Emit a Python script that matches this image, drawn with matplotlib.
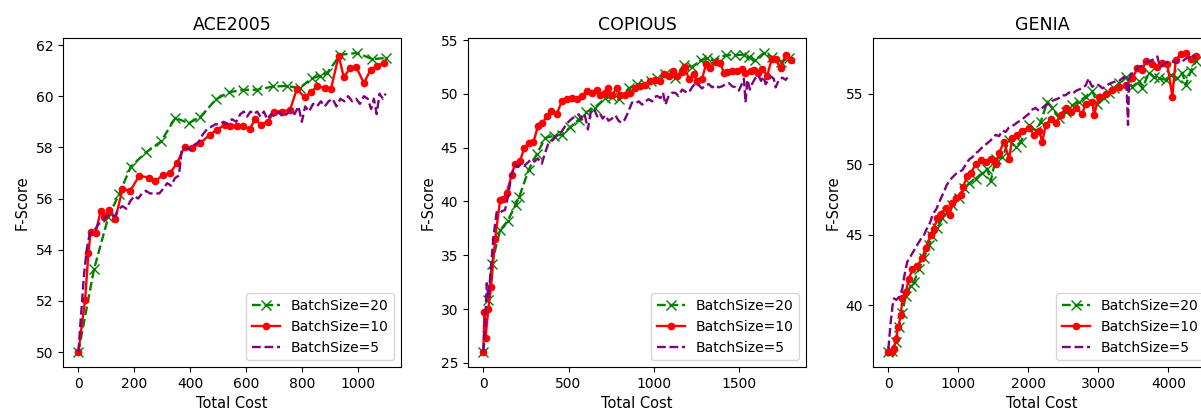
import matplotlib.pyplot as plt

# ACE2005
ace_x20 = [0, 56, 107, 146, 188, 242, 296, 347, 395, 436, 493, 538, 590, 638, 698, 746,
           792, 836, 866, 890, 938, 998, 1052, 1100]
ace_y20 = [50.0, 53.24, 55.27, 56.18, 57.25, 57.8, 58.23, 59.15, 58.95, 59.18, 59.88, 60.15,
           60.25, 60.25, 60.38, 60.4, 60.32, 60.7, 60.8, 60.9, 61.62, 61.69, 61.45, 61.49]
ace_x10 = [0, 24, 36, 44, 62, 80, 92, 110, 132, 158, 186, 218, 252, 275, 302, 328, 353, 380,
           407, 436, 470, 496, 525, 542, 567, 590, 614, 632, 654, 678, 702, 728, 758, 782,
           810, 833, 856, 884, 904, 932, 950, 974, 995, 1022, 1046, 1070, 1094]
ace_y10 = [50.0, 52.03, 53.86, 54.7, 54.67, 55.53, 55.29, 55.55, 55.19, 56.37, 56.31, 56.89,
           56.82, 56.67, 56.92, 56.99, 57.38, 58.03, 57.96, 58.16, 58.49, 58.69, 58.88, 58.84,
           58.84, 58.84, 58.71, 59.1, 58.88, 59.01, 59.4, 59.4, 59.47, 60.28, 59.96, 60.18,
           60.38, 60.32, 60.28, 61.58, 60.75, 61.1, 61.14, 60.51, 61.03, 61.19, 61.3]
ace_x5 = [0, 10, 20, 30, 40, 50, 60, 72, 86, 100, 116, 130, 145, 158, 172, 186, 200, 214,
          228, 242, 256, 270, 290, 305, 318, 332, 346, 360, 370, 385, 400, 415, 430, 445,
          460, 475, 490, 505, 520, 535, 550, 565, 580, 592, 604, 616, 628, 640, 652, 664,
          676, 690, 704, 718, 732, 746, 760, 774, 788, 800, 812, 826, 840, 854, 868, 882,
          896, 910, 924, 938, 952, 966, 980, 994, 1008, 1022, 1036, 1048, 1058, 1068, 1078,
          1090, 1100]
ace_y5 = [50.0, 51.5, 53.0, 54.0, 54.6, 54.7, 54.8, 55.0, 55.1, 55.3, 55.4, 55.3, 55.6, 55.7,
          55.6, 55.9, 56.1, 56.0, 56.2, 56.3, 56.2, 56.2, 56.2, 56.4, 56.6, 56.5, 56.8, 56.9,
          57.9, 58.0, 57.9, 58.1, 58.2, 58.5, 58.7, 58.8, 58.9, 58.9, 59.0, 58.9, 59.1, 59.0,
          59.3, 59.4, 59.2, 59.4, 59.3, 59.4, 59.2, 59.4, 59.1, 59.3, 59.2, 59.4, 59.2, 59.3,
          59.5, 59.3, 59.6, 59.0, 59.6, 59.4, 59.7, 59.6, 59.8, 59.6, 59.8, 59.9, 59.6, 59.9,
          59.8, 60.0, 59.8, 59.9, 59.7, 60.0, 59.9, 59.5, 59.9, 59.3, 60.1, 59.9, 60.1]

# COPIOUS
cop_x20 = [0, 29, 49, 98, 143, 190, 210, 265, 314, 363, 412, 461, 510, 559, 604, 653, 716,
           755, 794, 853, 902, 951, 985, 1020, 1069, 1127, 1176, 1225, 1275, 1314, 1353,
           1422, 1480, 1529, 1559, 1594, 1647, 1696, 1745, 1794]
cop_y20 = [26.0, 30.8, 34.2, 37.3, 38.2, 39.7, 40.4, 42.9, 44.4, 45.9, 46.1, 46.2, 46.9,
           47.6, 48.3, 48.7, 49.6, 49.7, 49.5, 50.5, 50.9, 50.9, 51.2, 51.5, 51.85, 51.5,
           52.7, 52.5, 53.1, 53.3, 53.1, 53.6, 53.6, 53.65, 53.4, 53.1, 53.8, 53.4, 53.0, 53.3]
cop_x10 = [0, 6, 13, 29, 45, 69, 98, 118, 137, 167, 186, 216, 241, 265, 294, 320, 347, 373,
           398, 431, 461, 490, 519, 549, 578, 608, 637, 667, 686, 716, 731, 755, 784, 804,
           833, 863, 892, 921, 951, 980, 1010, 1039, 1059, 1088, 1112, 1137, 1166, 1182,
           1206, 1235, 1255, 1284, 1308, 1333, 1363, 1392, 1412, 1431, 1461, 1490, 1520,
           1539, 1569, 1588, 1613, 1637, 1667, 1692, 1716, 1745, 1775, 1804]
cop_y10 = [26.0, 29.7, 27.3, 30.0, 32.0, 36.5, 40.1, 40.2, 40.8, 42.5, 43.5, 43.8, 45.0,
           45.4, 45.5, 47.0, 47.3, 47.9, 48.4, 48.15, 49.3, 49.5, 49.6, 49.5, 49.8, 50.25,
           50.1, 50.4, 49.9, 50.1, 50.5, 49.9, 50.55, 49.9, 49.9, 50.1, 50.55, 50.7, 50.85,
           51.2, 51.3, 51.2, 51.8, 51.7, 52.1, 51.7, 52.0, 52.5, 51.4, 51.8, 51.2, 51.4, 52.8,
           52.4, 53.0, 52.9, 51.9, 52.0, 52.1, 52.1, 52.3, 51.9, 52.1, 52.2, 51.9, 52.3, 51.7,
           53.2, 53.2, 52.4, 53.6, 53.1]
cop_x5 = [0, 10, 20, 30, 45, 60, 78, 95, 110, 127, 145, 160, 175, 190, 205, 220, 240, 260,
          280, 300, 320, 343, 360, 380, 400, 420, 440, 460, 480, 500, 520, 540, 560, 578,
          596, 614, 630, 650, 668, 684, 700, 716, 735, 755, 775, 794, 810, 830, 850, 873,
          892, 912, 932, 951, 970, 990, 1005, 1020, 1040, 1055, 1069, 1085, 1108, 1127,
          1145, 1167, 1186, 1206, 1225, 1245, 1265, 1284, 1304, 1324, 1343, 1363, 1382,
          1402, 1422, 1441, 1461, 1480, 1500, 1520, 1530, 1539, 1550, 1565, 1580, 1598,
          1615, 1630, 1645, 1657, 1675, 1690, 1705, 1716, 1735, 1755, 1775, 1794]
cop_y5 = [26.0, 28.5, 32.4, 31.0, 34.0, 36.8, 39.0, 38.9, 39.1, 39.2, 40.5, 42.0, 43.0, 43.4,
          43.2, 43.5, 43.3, 43.6, 43.9, 43.7, 44.0, 43.5, 44.4, 45.3, 45.6, 45.9, 46.3, 46.5,
          47.0, 47.4, 47.7, 47.9, 48.1, 47.6, 48.0, 46.7, 48.3, 48.6, 47.9, 48.2, 47.7, 48.0,
          47.5, 47.7, 48.0, 47.5, 47.3, 47.6, 48.3, 49.2, 49.1, 49.3, 49.0, 49.3, 49.5, 49.3,
          49.7, 49.8, 49.6, 50.1, 49.0, 49.7, 50.1, 50.1, 49.8, 50.4, 50.2, 50.1, 50.6, 51.0,
          50.8, 50.5, 50.8, 50.9, 50.6, 50.8, 50.6, 50.7, 50.9, 51.0, 50.7, 50.6, 50.3, 51.0,
          51.4, 49.2, 51.3, 50.4, 51.0, 51.5, 51.7, 51.2, 51.6, 50.9, 51.3, 51.6, 51.4, 50.6,
          51.3, 51.5, 51.3, 51.7]

# GENIA
gen_x20 = [0, 57, 105, 152, 200, 248, 319, 367, 438, 510, 581, 629, 700, 771, 843, 914,
           1010, 1081, 1152, 1248, 1343, 1414, 1462, 1533, 1629, 1724, 1819, 1890, 2010,
           2105, 2176, 2271, 2343, 2438, 2533, 2629, 2724, 2819, 2914, 2986, 3081, 3152,
           3224, 3295, 3390, 3486, 3581, 3629, 3724, 3795, 3867, 3962, 4033, 4129, 4200,
           4248, 4319, 4390]
gen_y20 = [36.7, 36.8, 37.4, 38.5, 39.5, 40.7, 41.4, 41.7, 42.6, 43.4, 44.3, 44.9, 45.5,
           46.2, 46.6, 47.1, 47.6, 48.3, 48.65, 49.0, 49.4, 49.7, 48.8, 50.4, 50.5, 51.7,
           51.25, 51.6, 52.8, 52.4, 53.0, 54.45, 54.0, 53.3, 53.7, 54.2, 54.45, 54.8, 55.2,
           54.3, 54.7, 55.05, 55.4, 55.75, 56.2, 55.5, 55.9, 55.4, 56.5, 56.2, 56.1, 56.0,
           56.35, 56.1, 56.5, 55.6, 56.6, 57.3]
gen_x10 = [0, 57, 81, 105, 143, 176, 200, 248, 295, 343, 414, 486, 533, 605, 652, 700, 748,
           819, 876, 914, 971, 1033, 1067, 1129, 1176, 1248, 1319, 1390, 1462, 1533, 1581,
           1652, 1724, 1771, 1843, 1914, 2010, 2081, 2152, 2200, 2248, 2319, 2390, 2462,
           2533, 2605, 2676, 2771, 2819, 2914, 2938, 3010, 3105, 3200, 3295, 3390, 3486,
           3557, 3629, 3676, 3771, 3843, 3914, 3986, 4057, 4105, 4176, 4248, 4319, 4390]
gen_y10 = [36.7, 36.7, 36.9, 37.6, 38.5, 39.3, 40.5, 40.95, 41.9, 42.6, 42.8, 43.4, 44.1,
           44.98, 45.45, 46.2, 46.5, 46.9, 46.4, 47.3, 47.6, 47.8, 48.4, 49.2, 49.4, 50.0,
           50.3, 50.2, 50.4, 50.0, 50.8, 51.6, 50.4, 51.85, 52.1, 52.4, 52.6, 52.1, 52.4,
           51.6, 52.8, 53.2, 52.9, 53.5, 54.0, 53.7, 54.0, 53.6, 54.3, 54.45, 53.5, 54.8,
           55.0, 55.3, 55.5, 55.6, 56.1, 56.8, 56.7, 57.3, 57.1, 56.9, 57.2, 57.1, 54.8,
           57.4, 57.8, 57.9, 57.5, 57.65]
gen_x5 = [0, 33, 60, 81, 115, 152, 180, 200, 225, 248, 270, 295, 330, 367, 400, 438, 475,
          510, 545, 581, 605, 629, 652, 676, 700, 724, 760, 795, 830, 867, 900, 938, 980,
          1020, 1057, 1095, 1129, 1165, 1200, 1240, 1280, 1319, 1360, 1414, 1460, 1500,
          1533, 1580, 1630, 1676, 1720, 1760, 1795, 1850, 1914, 1960, 2010, 2060, 2105,
          2150, 2200, 2250, 2295, 2340, 2390, 2438, 2480, 2533, 2580, 2630, 2676, 2720,
          2770, 2819, 2845, 2867, 2890, 2914, 2960, 3010, 3060, 3105, 3150, 3200, 3250,
          3295, 3340, 3367, 3400, 3424, 3440, 3462, 3500, 3533, 3580, 3630, 3676, 3720,
          3771, 3810, 3843, 3870, 3890, 3930, 3962, 4010, 4057, 4100, 4152, 4200, 4248,
          4300, 4343, 4390]
gen_y5 = [36.9, 38.8, 40.0, 40.5, 40.4, 40.6, 40.9, 41.2, 42.0, 42.6, 43.1, 43.3, 43.6,
          43.9, 44.2, 44.5, 44.8, 45.0, 45.4, 45.7, 46.0, 46.4, 46.6, 46.75, 47.0, 47.3,
          47.7, 48.05, 48.5, 48.8, 49.0, 49.2, 49.4, 49.5, 49.6, 49.9, 50.2, 50.4, 50.5,
          50.8, 50.9, 51.1, 51.3, 51.5, 51.7, 51.9, 52.1, 52.0, 52.4, 52.3, 52.6, 52.7,
          52.8, 53.0, 53.2, 53.4, 53.6, 53.9, 54.0, 53.8, 54.0, 54.2, 54.3, 54.5, 54.6,
          54.7, 54.9, 54.9, 55.1, 55.0, 55.2, 55.3, 55.4, 55.6, 55.9, 56.1, 55.7, 55.5,
          55.7, 55.6, 55.4, 55.5, 55.7, 55.8, 55.9, 55.9, 56.1, 56.2, 56.0, 52.8, 56.1,
          56.35, 56.5, 56.7, 56.9, 57.0, 57.2, 57.3, 57.4, 57.5, 57.65, 57.1, 56.9, 57.1,
          57.2, 57.3, 57.3, 57.2, 57.4, 57.3, 57.5, 57.6, 57.8, 57.5]

titles = ['ACE2005', 'COPIOUS', 'GENIA']
panels = [
    (ace_x20, ace_y20, ace_x10, ace_y10, ace_x5, ace_y5),
    (cop_x20, cop_y20, cop_x10, cop_y10, cop_x5, cop_y5),
    (gen_x20, gen_y20, gen_x10, gen_y10, gen_x5, gen_y5),
]
xticks = [[0, 200, 400, 600, 800, 1000], [0, 500, 1000, 1500], [0, 1000, 2000, 3000, 4000]]
lefts = [63, 468, 873]

fig = plt.figure(figsize=(12.01, 4.12), dpi=100)
for left, title, ticks, (x20, y20, x10, y10, x5, y5) in zip(lefts, titles, xticks, panels):
    ax = fig.add_axes([left / 1201, 45 / 412, 338 / 1201, 329 / 412])
    ax.plot(x20, y20, '--', color='green', marker='x', ms=6.5, lw=1.7, label='BatchSize=20')
    ax.plot(x10, y10, '-', color='red', marker='.', ms=9, lw=1.7, label='BatchSize=10')
    ax.plot(x5, y5, '--', color='purple', lw=1.7, label='BatchSize=5')
    ax.set_xticks(ticks)
    ax.set_title(title, fontsize=12.5)
    ax.set_xlabel('Total Cost', fontsize=10.5)
    ax.set_ylabel('F-Score', fontsize=10.5)
    ax.tick_params(labelsize=10)
    ax.legend(loc='lower right', fontsize=10)

fig.savefig('out.png', dpi=100)
